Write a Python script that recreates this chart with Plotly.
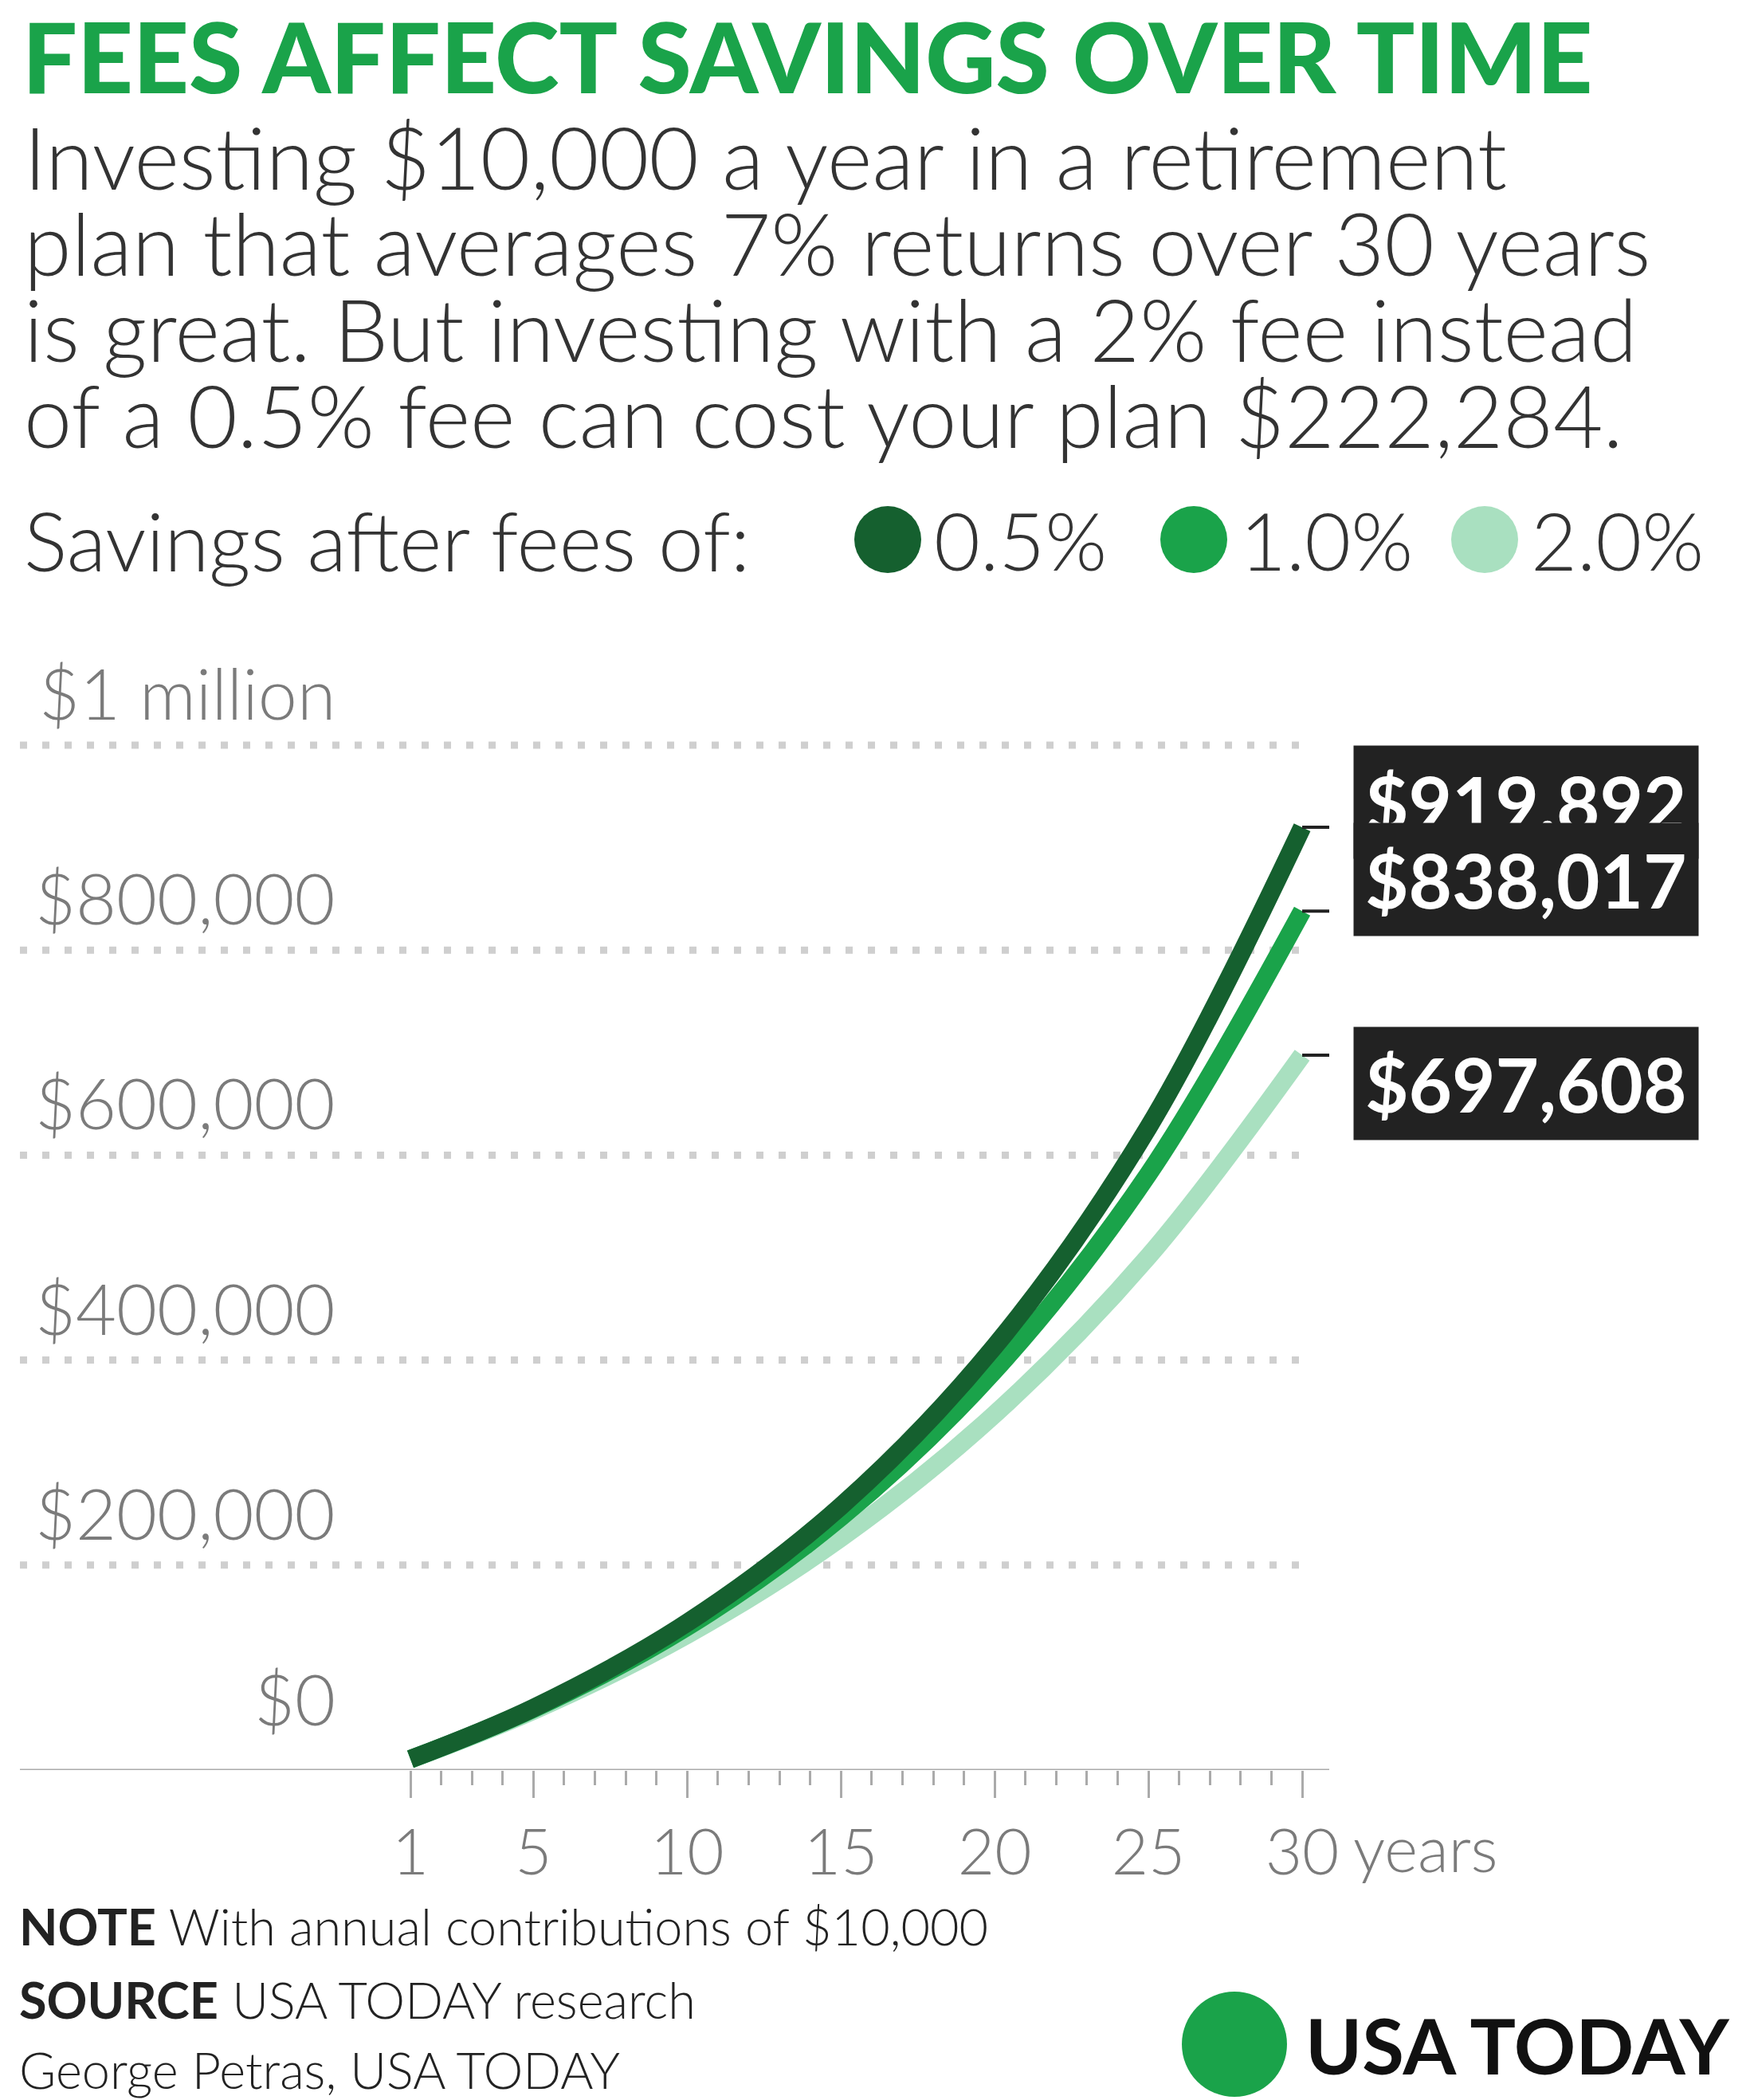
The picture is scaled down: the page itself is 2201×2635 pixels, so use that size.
import plotly.graph_objects as go

# data (year-end savings, $)
years = [1, 5, 10, 15, 20, 25, 30]
fee_05 = [10650, 60640, 143710, 257540, 413480, 627150, 919892]
fee_10 = [10600, 59750, 139710, 246730, 389920, 581560, 838017]
fee_20 = [10500, 58020, 132070, 226570, 347190, 501140, 697608]
end_labels = ["$919,892", "$838,017", "$697,608"]
y_ticks = [0, 200000, 400000, 600000, 800000, 1000000]
y_labels = ["$0", "$200,000", "$400,000", "$600,000", "$800,000", "$1 million"]
x_ticks = [1, 5, 10, 15, 20, 25, 30]

DARK, MID, LIGHT = "#15602f", "#1aa34a", "#a9e0c0"
GRAY = "#7b7b7b"
W, H = 2201, 2635
L, R, T, B = 17, 1660, 800, 2213

def px(X):
    return (X - L) / (R - L)

def py(Y):
    return (B - Y) / (B - T)

fig = go.Figure()
for vals, col in [(fee_20, LIGHT), (fee_10, MID), (fee_05, DARK)]:
    fig.add_trace(go.Scatter(x=years, y=vals, mode="lines", line=dict(color=col, width=23, shape="spline"),
                             hoverinfo="skip", cliponaxis=False))

shapes = []
annos = []
# dotted gridlines
for v in y_ticks[1:]:
    shapes.append(dict(type="line", xref="paper", yref="y", x0=0, x1=px(1640), y0=v, y1=v, layer="below",
                       line=dict(color="#cfcfcf", width=9, dash="9px,19px")))
# baseline
shapes.append(dict(type="line", xref="paper", yref="y", x0=0, x1=1, y0=0, y1=0, layer="below",
                   line=dict(color="#aaaaaa", width=3)))

# y labels
for v, t in zip(y_ticks, y_labels):
    annos.append(dict(xref="paper", yref="y", x=px(415), y=v, yshift=90 if v == 0 else 66, text=t,
                      showarrow=False, xanchor="right", yanchor="middle",
                      font=dict(family="Lato", weight=300, size=88, color=GRAY)))

# end labels
shifts = [32, 40, -36]
for vals, t, s in zip([fee_05, fee_10, fee_20], end_labels, shifts):
    shapes.append(dict(type="line", xref="x", yref="y", x0=30, x1=31.8, y0=vals[-1], y1=vals[-1],
                       line=dict(color="#222222", width=4)))
    annos.append(dict(xref="paper", yref="y", x=px(1690), y=vals[-1], yshift=s, text="<b>" + t + "</b>",
                      showarrow=False, xanchor="left", yanchor="middle", bgcolor="#222222", borderpad=14,
                      font=dict(family="Lato", size=94, color="white")))

annos.append(dict(xref="x", yref="paper", x=30, xshift=62, y=py(2310), text="years", showarrow=False,
                  xanchor="left", yanchor="middle", font=dict(family="Lato", weight=300, size=80, color=GRAY)))

# header
annos.append(dict(xref="paper", yref="paper", x=px(18), y=py(62), text="FEES AFFECT SAVINGS OVER TIME",
                  showarrow=False, xanchor="left", yanchor="middle",
                  font=dict(family="Lato", weight=900, size=122, color=MID)))
sub = ["Investing $10,000 a year in a retirement", "plan that averages 7% returns over 30 years",
       "is great. But investing with a 2% fee instead", "of a 0.5% fee can cost your plan $222,284."]
for i, s in enumerate(sub):
    annos.append(dict(xref="paper", yref="paper", x=px(20), y=py(188 + i * 108), text=s, showarrow=False,
                      xanchor="left", yanchor="middle", font=dict(family="Lato", weight=300, size=108, color="#333333")))

annos.append(dict(xref="paper", yref="paper", x=px(20), y=py(669), text="Savings after fees of:", showarrow=False,
                  xanchor="left", yanchor="middle", font=dict(family="Lato", weight=300, size=102, color="#333333")))
for cx, col, t in [(1106, DARK, "0.5%"), (1490, MID, "1.0%"), (1855, LIGHT, "2.0%")]:
    shapes.append(dict(type="circle", xref="paper", yref="paper", x0=px(cx - 42), x1=px(cx + 42),
                       y0=py(669 + 42), y1=py(669 - 42), fillcolor=col, line=dict(width=0)))
    annos.append(dict(xref="paper", yref="paper", x=px(cx + 56), y=py(669), text=t, showarrow=False,
                      xanchor="left", yanchor="middle", font=dict(family="Lato", weight=300, size=100, color="#333333")))

# footer
foot = [("NOTE", "With annual contributions of $10,000", 2408), ("SOURCE", "USA TODAY research", 2500),
        ("", "George Petras, USA TODAY", 2588)]
for b, t, y in foot:
    txt = ("<b>" + b + "</b> " if b else "") + t
    annos.append(dict(xref="paper", yref="paper", x=px(14), y=py(y), text=txt, showarrow=False,
                      xanchor="left", yanchor="middle", font=dict(family="Lato", weight=300, size=63, color="#222222")))
shapes.append(dict(type="circle", xref="paper", yref="paper", x0=px(1541 - 66), x1=px(1541 + 66),
                   y0=py(2557 + 66), y1=py(2557 - 66), fillcolor=MID, line=dict(width=0)))
annos.append(dict(xref="paper", yref="paper", x=px(1628), y=py(2557), text="<b>USA TODAY</b>", showarrow=False,
                  xanchor="left", yanchor="middle", font=dict(family="Lato", weight=900, size=96, color="#111111")))

fig.update_layout(
    width=W, height=H, margin=dict(l=L, r=W - R, t=T, b=H - B),
    paper_bgcolor="white", plot_bgcolor="white", showlegend=False,
    shapes=shapes, annotations=annos,
    xaxis=dict(range=[-11.7, 30.88], tickvals=x_ticks, ticktext=[str(v) for v in x_ticks], ticks="outside",
               ticklen=34, tickwidth=3, tickcolor="#aaaaaa", showgrid=False, zeroline=False, showline=False,
               minor=dict(tickvals=list(range(2, 30)), ticks="outside", ticklen=18, tickwidth=3, tickcolor="#aaaaaa"),
               tickfont=dict(family="Lato", weight=300, size=80, color=GRAY)),
    yaxis=dict(range=[0, 1098800], showgrid=False, zeroline=False, showticklabels=False, showline=False),
)
fig.write_html("out.html")
